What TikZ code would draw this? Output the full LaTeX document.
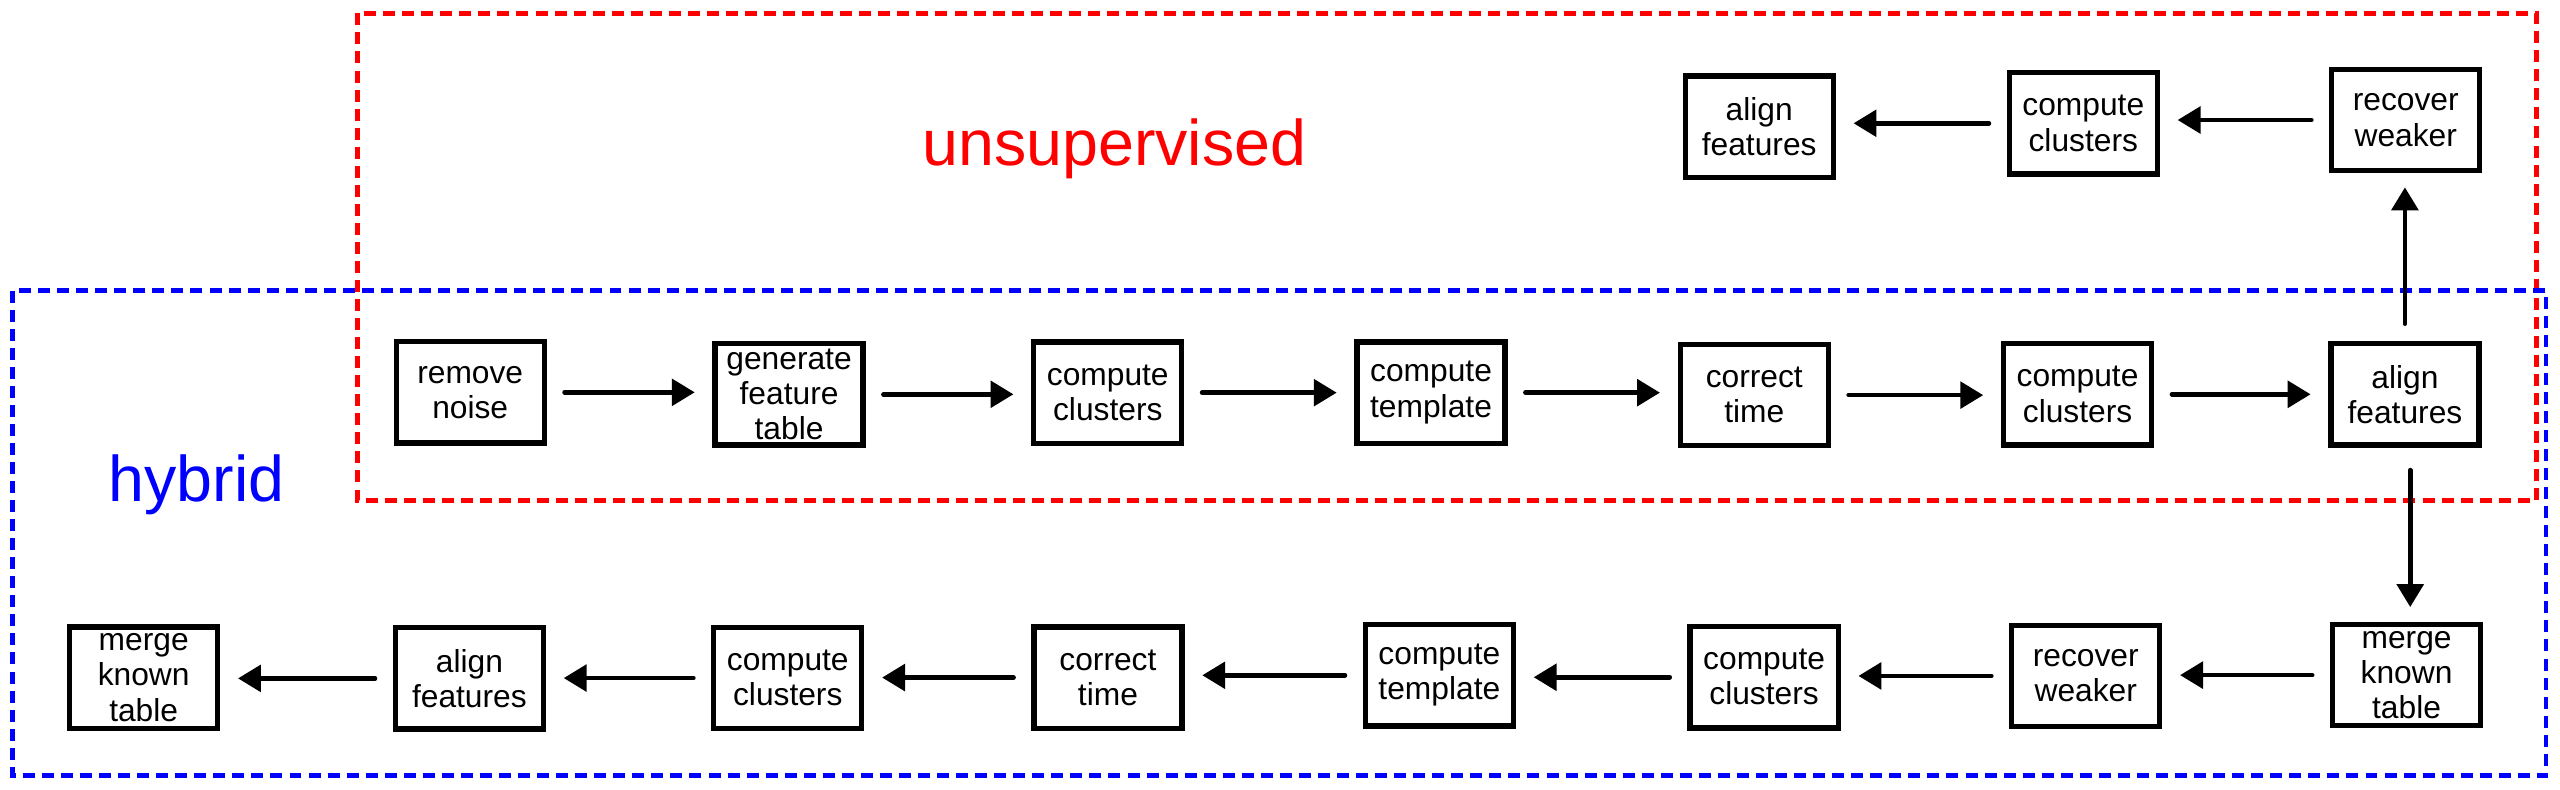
\documentclass[tikz,border=0pt]{standalone}
\usepackage{fontspec}
\setmainfont{Liberation Sans}
\usetikzlibrary{arrows.meta}
\begin{document}
\begin{tikzpicture}[x=0.4629pt, y=-0.4629pt,
  stepbox/.style={draw, line width=1.5pt, minimum width=42pt, minimum height=28.7pt,
    inner sep=0pt, align=center, font=\fontsize{9}{10}\selectfont},
  arr/.style={line width=1.3pt, line cap=round, -{Triangle[length=6.5pt,width=7.5pt]},
    shorten <=5pt, shorten >=5pt},
  region/.style={line width=1.3pt, dash pattern=on 3.4pt off 2pt},
  biglabel/.style={font=\fontsize{18.3}{20}\selectfont, anchor=base, inner sep=0pt}]
\useasboundingbox (0,0) rectangle (1568,483.26);

% group frames
\draw[region, red] (219,8.2) rectangle (1553.6,306.6);
\draw[region, blue] (7.7,178) rectangle (1559.5,475);

\node[biglabel, text=red] (lu) at (682.5,101.5) {unsupervised};
\node[biglabel, text=blue] (lh) at (120.5,307.2) {hybrid};

% middle row
\node[stepbox] (t1) at (288,240.3) {remove\\noise};
\node[stepbox] (t2) at (483.3,241.5) {generate\\feature\\table};
\node[stepbox] (t3) at (678.5,240.5) {compute\\clusters};
\node[stepbox] (t4) at (876.5,240.5) {compute\\template};
\node[stepbox] (t5) at (1074.5,242) {correct\\time};
\node[stepbox] (t6) at (1272.5,241.5) {compute\\clusters};
\node[stepbox] (t7) at (1473,241.5) {align\\features};

% upper row
\node[stepbox] (u1) at (1473.5,73.5) {recover\\weaker};
\node[stepbox] (u2) at (1276,75.5) {compute\\clusters};
\node[stepbox] (u3) at (1077.5,77.5) {align\\features};

% bottom row
\node[stepbox] (b1) at (1474,413.5) {merge\\known\\table};
\node[stepbox] (b2) at (1277.5,414) {recover\\weaker};
\node[stepbox] (b3) at (1080.5,414.8) {compute\\clusters};
\node[stepbox] (b4) at (881.6,413.6) {compute\\template};
\node[stepbox] (b5) at (678.6,415) {correct\\time};
\node[stepbox] (b6) at (482.5,415.3) {compute\\clusters};
\node[stepbox] (b7) at (287.5,415.5) {align\\features};
\node[stepbox] (b8) at (88,415) {merge\\known\\table};

% middle row arrows
\draw[arr] (t1.east) -- (t1.east -| t2.west);
\draw[arr] (t2.east) -- (t2.east -| t3.west);
\draw[arr] (t3.east) -- (t3.east -| t4.west);
\draw[arr] (t4.east) -- (t4.east -| t5.west);
\draw[arr] (t5.east) -- (t5.east -| t6.west);
\draw[arr] (t6.east) -- (t6.east -| t7.west);

% vertical arrows
\draw[arr, shorten <=4.9pt, shorten >=4pt] (t7.north) -- (t7.north |- u1.south);
\draw[arr, shorten <=6.4pt, shorten >=4.2pt] ([xshift=1.5pt]t7.south) -- ([xshift=1.5pt]t7.south |- b1.north);

% upper row arrows
\draw[arr] (u1.west) -- (u1.west -| u2.east);
\draw[arr] (u2.west) -- (u2.west -| u3.east);

% bottom row arrows
\draw[arr] (b1.west) -- (b1.west -| b2.east);
\draw[arr] (b2.west) -- (b2.west -| b3.east);
\draw[arr] (b3.west) -- (b3.west -| b4.east);
\draw[arr] (b4.west) -- (b4.west -| b5.east);
\draw[arr] (b5.west) -- (b5.west -| b6.east);
\draw[arr] (b6.west) -- (b6.west -| b7.east);
\draw[arr] (b7.west) -- (b7.west -| b8.east);
\end{tikzpicture}
\end{document}
